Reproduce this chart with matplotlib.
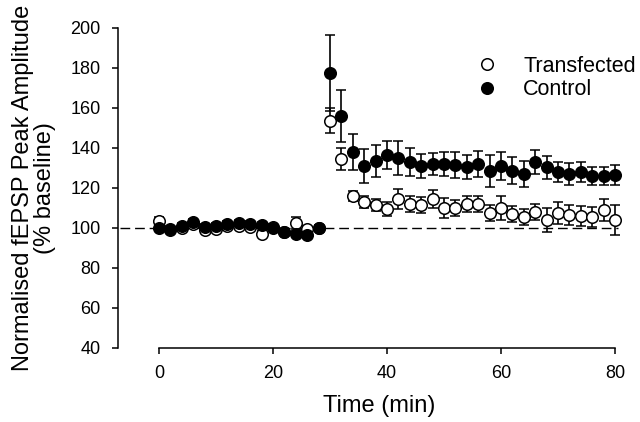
import matplotlib
matplotlib.use("Agg")
import matplotlib.pyplot as plt
from matplotlib.lines import Line2D

plt.rcParams['font.family'] = ['Liberation Sans', 'DejaVu Sans']

time_min = list(range(0, 81, 2))

control = [99.8, 99.3, 101.0, 103.0, 100.3, 101.2, 101.8, 102.3, 102.2, 101.5,
           100.0, 98.2, 96.8, 96.5, 100.0,
           177.7, 156.2, 138.2, 131.2, 133.5, 136.7, 135.0, 133.2, 131.2, 132.0,
           132.0, 131.5, 130.7, 132.0, 128.7, 131.2, 128.7, 127.0, 133.2, 130.3,
           128.2, 127.0, 128.0, 126.0, 126.0, 126.5]
control_err = [1.5, 1.5, 1.5, 1.5, 1.5, 1.5, 1.5, 1.5, 1.5, 1.5,
               1.5, 1.5, 1.5, 1.5, 1.5,
               19.0, 13.0, 9.0, 8.5, 8.0, 7.0, 8.5, 7.0, 6.0, 5.5,
               6.0, 6.7, 6.0, 6.7, 8.0, 7.0, 6.7, 6.5, 6.0, 5.7,
               5.0, 5.3, 5.0, 4.7, 4.7, 5.0]

transfected = [103.5, 99.0, 100.0, 102.0, 99.0, 99.5, 101.0, 101.0, 100.5, 97.0,
               100.5, 98.0, 102.5, 99.5, 100.0,
               153.7, 134.3, 116.2, 113.2, 111.5, 109.7, 114.5, 112.0, 111.3, 114.5,
               110.2, 110.2, 111.8, 111.8, 107.7, 109.8, 107.0, 105.3, 108.2, 104.0,
               107.7, 106.5, 106.2, 105.7, 109.0, 104.0]
transfected_err = [2.0, 1.5, 1.5, 1.5, 1.5, 1.5, 1.5, 1.5, 1.5, 1.5,
                   1.5, 1.5, 3.0, 1.5, 1.5,
                   6.3, 5.5, 2.5, 3.0, 3.0, 3.5, 5.0, 4.0, 4.0, 4.5,
                   5.0, 4.0, 4.0, 4.0, 4.0, 6.0, 4.0, 4.0, 4.0, 6.0,
                   5.5, 5.0, 5.0, 5.0, 5.5, 7.5]

x_ticks = [0, 20, 40, 60, 80]
y_ticks = [40, 60, 80, 100, 120, 140, 160, 180, 200]
baseline = 100

W, H = 640, 422
fig = plt.figure(figsize=(W / 100, H / 100), dpi=100)
ax_left, ax_right = 118, 640
ax_top, ax_bottom = 28, 348
ax = fig.add_axes([ax_left / W, 1 - ax_bottom / H, (ax_right - ax_left) / W, (ax_bottom - ax_top) / H])

px_per_unit = 5.7
x0_px = 159
ax.set_xlim((ax_left - x0_px) / px_per_unit, (ax_right - x0_px) / px_per_unit)
ax.set_ylim(40, 200)

ax.plot([ax.get_xlim()[0] + 0.3, 80.5], [baseline, baseline], color='black', lw=1.0,
        linestyle=(0, (7, 3.5)), zorder=1)

ms = 8.3
mew = 1.1
common = dict(fmt='o', ecolor='black', elinewidth=1.2, capsize=3.8, capthick=1.2,
              markersize=ms, markeredgewidth=mew, markeredgecolor='black')
ax.errorbar(time_min, transfected, yerr=transfected_err, markerfacecolor='white',
            zorder=2, **common)
ax.errorbar(time_min, control, yerr=control_err, markerfacecolor='black',
            zorder=3, **common)

for s in ['top', 'right']:
    ax.spines[s].set_visible(False)
ax.spines['left'].set_bounds(40, 200)
ax.spines['bottom'].set_bounds(0, 80)
for s in ['left', 'bottom']:
    ax.spines[s].set_linewidth(1.1)

ax.set_xticks(x_ticks)
ax.set_yticks(y_ticks)
ax.tick_params(direction='out', length=4.5, width=1.1, labelsize=13, pad=8)

ax.set_xlabel('Time (min)', fontsize=17, labelpad=9)
ax.set_ylabel('Normalised fEPSP Peak Amplitude\n(% baseline)', fontsize=17,
              linespacing=1.0, labelpad=10)

handles = [Line2D([], [], marker='o', linestyle='none', markersize=ms,
                  markerfacecolor='white', markeredgecolor='black', markeredgewidth=mew),
           Line2D([], [], marker='o', linestyle='none', markersize=ms,
                  markerfacecolor='black', markeredgecolor='black', markeredgewidth=mew)]
fig.legend(handles, ['Transfected', 'Control'], loc='center left',
           bbox_to_anchor=(476 / W, 1 - 78 / H), frameon=False, fontsize=15.5,
           handlelength=1.0, handletextpad=1.2, labelspacing=0.1,
           borderpad=0, borderaxespad=0)

fig.savefig('out.png', dpi=100)
